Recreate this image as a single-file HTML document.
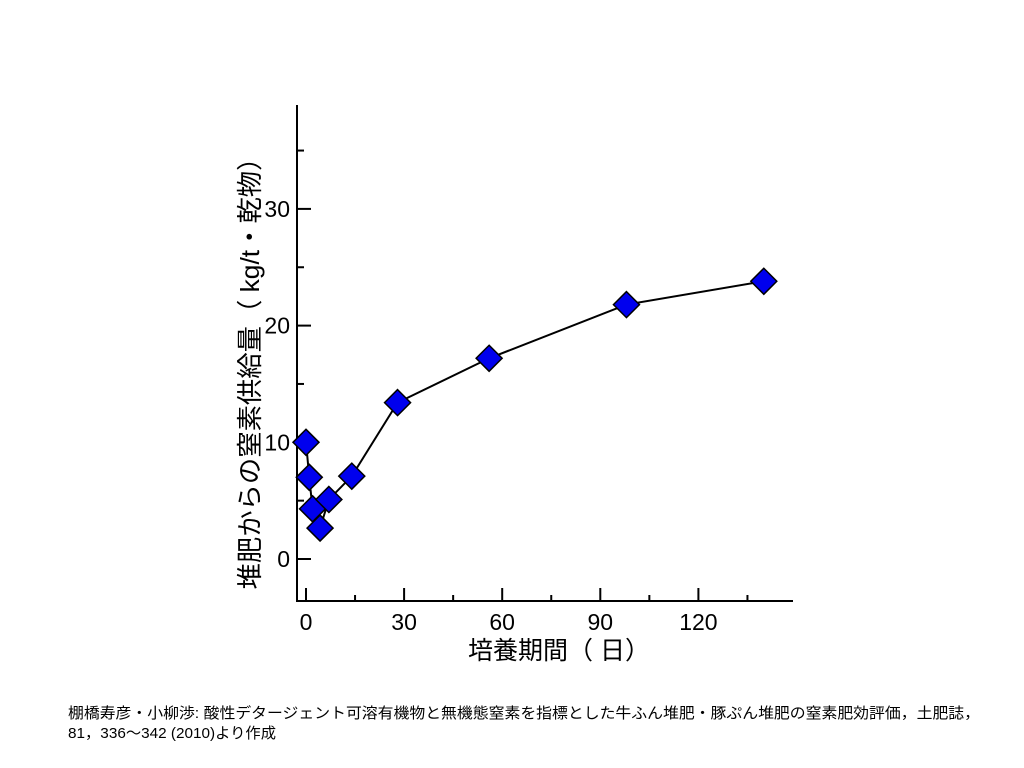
<!DOCTYPE html>
<html><head><meta charset="utf-8"><style>
body{margin:0;background:#fff;width:1024px;height:768px;overflow:hidden;font-family:"Liberation Sans","Noto Sans CJK JP",sans-serif}
svg{position:absolute;left:0;top:0}
</style></head><body>
<svg width="1024" height="768" font-family="Liberation Sans,Noto Sans CJK JP,sans-serif">
<g id="axes"></g><g id="marks"></g>
<text x="0" y="0" transform="translate(259,367) rotate(-90)" text-anchor="middle" font-size="26" textLength="445" lengthAdjust="spacingAndGlyphs">堆肥からの窒素供給量（ kg/t・乾物）</text>
<text x="559" y="659" text-anchor="middle" font-size="25" textLength="182" lengthAdjust="spacingAndGlyphs">培養期間（ 日）</text>
<text x="68" y="718" font-size="15" textLength="912" lengthAdjust="spacingAndGlyphs">棚橋寿彦・小柳渉: 酸性デタージェント可溶有機物と無機態窒素を指標とした牛ふん堆肥・豚ぷん堆肥の窒素肥効評価，土肥誌，</text>
<text x="68" y="738" font-size="15" textLength="208" lengthAdjust="spacingAndGlyphs">81，336～342 (2010)より作成</text>
</svg>
<script>
const days=[0,1,2,4.3,7,14,28,56,98,140];
const nitrogen=[10,7,4.3,2.65,5.1,7.1,13.4,17.2,21.8,23.8];
const xTicks=[0,30,60,90,120];
const yTicks=[0,10,20,30];
const NS='http://www.w3.org/2000/svg';
const X=v=>306+v*3.27, Y=v=>559-v*11.67;
function mk(t,a,p){const e=document.createElementNS(NS,t);for(const k in a)e.setAttribute(k,a[k]);p.appendChild(e);return e;}
const ax=document.getElementById('axes'), mg=document.getElementById('marks');
let e=mk('path',{d:'M297,105V601H793',fill:'none',stroke:'#000','stroke-width':2},ax);


for(let v=0;v<=145;v+=15){const maj=v%30===0;e=mk('line',{x1:X(v),x2:X(v),y1:601,y2:maj?588:595,stroke:'#000','stroke-width':2},ax);

}
for(let v=0;v<=35;v+=5){const maj=v%10===0;e=mk('line',{x1:297,x2:maj?311:304,y1:Y(v),y2:Y(v),stroke:'#000','stroke-width':2},ax);

}
xTicks.forEach(v=>{e=mk('text',{x:X(v),y:630,'text-anchor':'middle','font-size':23},ax);e.textContent=v;

});
yTicks.forEach(v=>{e=mk('text',{x:290,y:Y(v)+8,'text-anchor':'end','font-size':23},ax);e.textContent=v;

});
e=mk('polyline',{points:days.map((d,i)=>X(d)+','+Y(nitrogen[i])).join(' '),fill:'none',stroke:'#000','stroke-width':2},mg);


days.forEach((d,i)=>{const x=X(d),y=Y(nitrogen[i]),r=13;
e=mk('polygon',{points:`${x},${y-r} ${x+r},${y} ${x},${y+r} ${x-r},${y}`,fill:'#0000ee',stroke:'#000','stroke-width':1.5},mg);

});
</script>
</body></html>
